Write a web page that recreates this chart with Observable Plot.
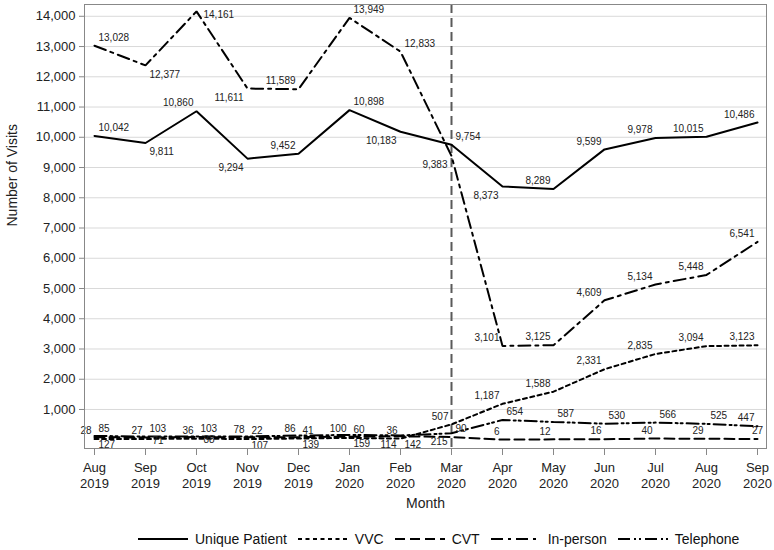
<!DOCTYPE html>
<html><head><meta charset="utf-8">
<script src="https://cdn.jsdelivr.net/npm/d3@7"></script>
<script src="https://cdn.jsdelivr.net/npm/@observablehq/plot@0.6"></script>
<style>
body{margin:0;background:#fff;font-family:"Liberation Sans",Arial,sans-serif;}
#chart svg{display:block}
#legend{display:flex;justify-content:flex-start;align-items:center;height:22px;font-size:14px;color:#111;padding-left:138px}
.item{display:flex;align-items:center;margin-right:11px}
.item svg{margin-right:7px;display:block}
</style></head><body><div id="chart"></div><div id="legend"></div>
<script>
const months = ["Aug 2019","Sep 2019","Oct 2019","Nov 2019","Dec 2019","Jan 2020","Feb 2020","Mar 2020","Apr 2020","May 2020","Jun 2020","Jul 2020","Aug 2020","Sep 2020"];
const uniquePatient = [10042, 9811, 10860, 9294, 9452, 10898, 10183, 9754, 8373, 8289, 9599, 9978, 10015, 10486];
const vvc = [28, 27, 36, 22, 41, 60, 36, 507, 1187, 1588, 2331, 2835, 3094, 3123];
const cvt = [85, 71, 88, 78, 86, 100, 114, 90, 6, 12, 16, 40, 29, 27];
const inPerson = [13028, 12377, 14161, 11611, 11589, 13949, 12833, 9383, 3101, 3125, 4609, 5134, 5448, 6541];
const telephone = [127, 103, 103, 107, 139, 159, 142, 215, 654, 587, 530, 566, 525, 447];
const yTicks = [1000,2000,3000,4000,5000,6000,7000,8000,9000,10000,11000,12000,13000,14000];
const seriesNames = ["Unique Patient","VVC","CVT","In-person","Telephone"];
const covidMonth = "Mar 2020";

// label placement codes (style only)
const labelPos = {
  "Unique Patient": ["tr","br","tl","bl","tl","tr","bl","tr","bl","tl","tl","tl","tl","tl"],
  "VVC":            ["tl","tl","tl","tr","tr","tr","tl","tl","tl","tl","tl","tl","tl","tl"],
  "CVT":            ["tr","r","r","tl","tl","tl","bl","tr","tl","tl","tl","tl","tl","t"],
  "In-person":      ["tr","br","r","bl","tl","tr","tr","bl","tl","tl","tl","tl","tl","tl"],
  "Telephone":      ["br","tr","tr","br","br","br","br","bl","tr","tr","tr","tr","tr","tl"]
};
const dashes = {
  "Unique Patient": null,
  "VVC": "4,3.5",
  "CVT": "10,5",
  "In-person": "12,5,3,5",
  "Telephone": "12,4,2,3,2,4"
};
const valuesBy = {"Unique Patient": uniquePatient, "VVC": vvc, "CVT": cvt, "In-person": inPerson, "Telephone": telephone};

const rows = seriesNames.flatMap(s => months.map((m, i) => ({series: s, month: m, value: valuesBy[s][i], pos: labelPos[s][i]})));

const posStyle = {
  tr: {textAnchor: "start", dx: 4, dy: -8},
  tl: {textAnchor: "end", dx: -3, dy: -8},
  br: {textAnchor: "start", dx: 4, dy: 9},
  bl: {textAnchor: "end", dx: -4, dy: 9},
  r:  {textAnchor: "start", dx: 7, dy: 3},
  t:  {textAnchor: "middle", dx: 0, dy: -8}
};

const fmt = d3.format(",");
const font = "Liberation Sans, Arial, sans-serif";

const marks = [
  Plot.gridY(yTicks, {stroke: "#d9d9d9", strokeOpacity: 1}),
  Plot.ruleX([covidMonth], {stroke: "#5a5a5a", strokeWidth: 2, strokeDasharray: "9,5"}),
  ...["In-person","Unique Patient","VVC","CVT","Telephone"].map(s =>
    Plot.line(rows.filter(r => r.series === s), {x: "month", y: "value", stroke: "#000", strokeWidth: 2, strokeDasharray: dashes[s], strokeLinejoin: "miter"})
  ),
  ...Object.entries(posStyle).map(([code, st]) =>
    Plot.text(rows.filter(r => r.pos === code), {x: "month", y: "value", text: d => fmt(d.value), fontSize: 10, fill: "#222", fontFamily: font, ...st})
  ),
  Plot.frame({stroke: "#888"}),
  Plot.axisY(yTicks, {tickFormat: fmt, tickSize: 5, tickPadding: 4, fontSize: 13, stroke: "#888", fill: "#222", label: null, fontFamily: font}),
  Plot.axisX({tickFormat: d => d.replace(" ", "\n"), tickSize: 7, tickPadding: 4, fontSize: 13, lineHeight: 1.3, stroke: "#888", fill: "#222", label: null, fontFamily: font}),
  Plot.text(["Number of Visits"], {frameAnchor: "left", dx: -72, rotate: -90, fontSize: 14, fill: "#222", fontFamily: font}),
  Plot.text(["Month"], {frameAnchor: "bottom", dy: 59, fontSize: 14, fill: "#222", fontFamily: font})
];

const chart = Plot.plot({
  width: 774,
  height: 528,
  marginLeft: 84,
  marginRight: 8,
  marginTop: 4,
  marginBottom: 80,
  style: {fontFamily: font, background: "#fff"},
  x: {type: "point", domain: months, padding: 0.167},
  y: {domain: [-290, 14390]},
  marks
});
document.getElementById("chart").appendChild(chart);

const legend = document.getElementById("legend");
seriesNames.forEach(s => {
  const item = document.createElement("div");
  item.className = "item";
  const ns = "http://www.w3.org/2000/svg";
  const svg = document.createElementNS(ns, "svg");
  svg.setAttribute("width", 50); svg.setAttribute("height", 10);
  const line = document.createElementNS(ns, "line");
  line.setAttribute("x1", 0); line.setAttribute("x2", 50);
  line.setAttribute("y1", 5); line.setAttribute("y2", 5);
  line.setAttribute("stroke", "#000"); line.setAttribute("stroke-width", 2);
  if (dashes[s]) line.setAttribute("stroke-dasharray", dashes[s]);
  svg.appendChild(line);
  const span = document.createElement("span");
  span.textContent = s;
  item.appendChild(svg); item.appendChild(span);
  legend.appendChild(item);
});
</script></body></html>
